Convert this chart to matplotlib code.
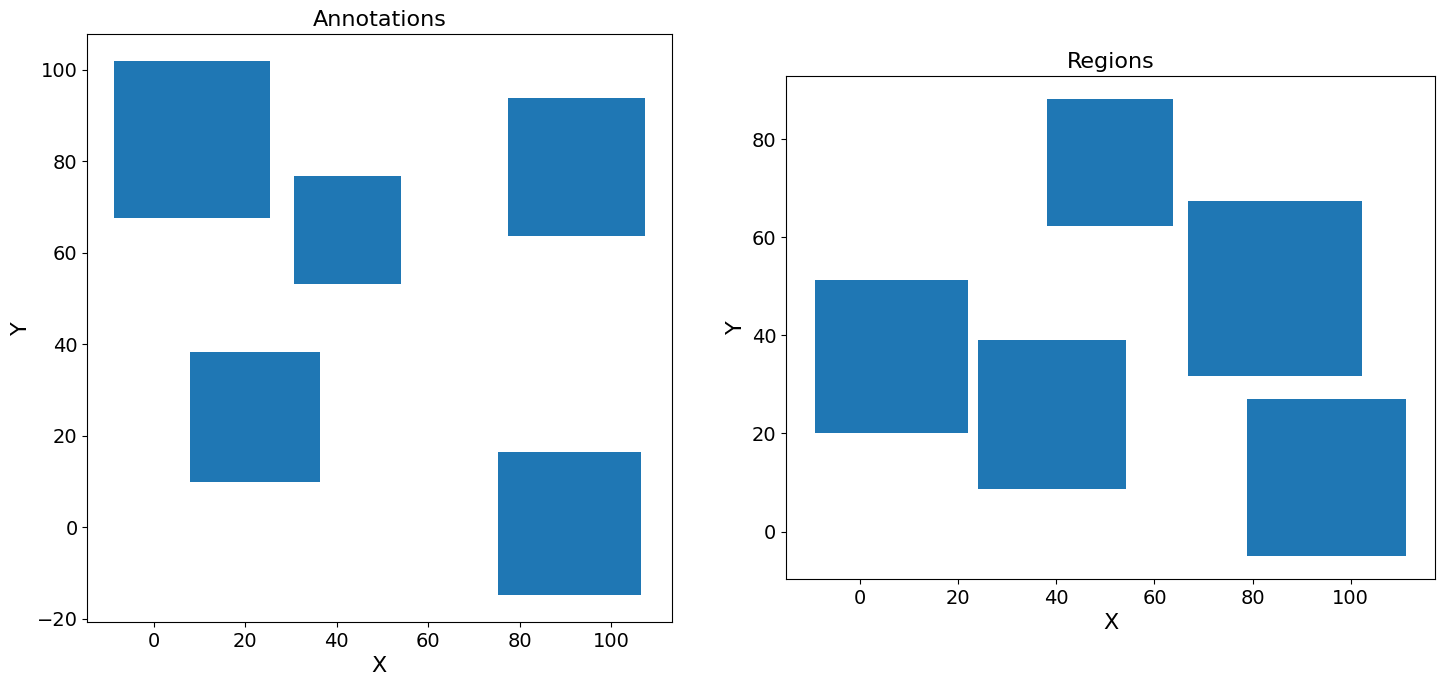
import matplotlib.pyplot as plt
from matplotlib.patches import Rectangle

# Annotations panel: lower-left corner, width, height of each box
ann_x = [-8.7, 30.6, 77.5, 7.9, 75.3]
ann_y = [67.5, 53.1, 63.6, 9.8, -14.9]
ann_w = [34.2, 23.5, 29.9, 28.4, 31.3]
ann_h = [34.4, 23.6, 30.2, 28.5, 31.3]

# Regions panel
reg_x = [-9.1, 24.1, 38.1, 66.8, 78.8]
reg_y = [20.0, 8.6, 62.2, 31.8, -5.0]
reg_w = [31.1, 30.1, 25.7, 35.4, 32.4]
reg_h = [31.2, 30.4, 26.0, 35.5, 32.1]


def box_panel(ax, xs, ys, ws, hs, title):
    for x, y, w, h in zip(xs, ys, ws, hs):
        ax.add_patch(Rectangle((x, y), w, h, facecolor='#1f77b4', edgecolor='none'))
    ax.autoscale_view()
    ax.set_aspect('equal', adjustable='box')
    ax.set_title(title, fontsize=16)
    ax.set_xlabel('X', fontsize=16)
    ax.set_ylabel('Y', fontsize=16)
    ax.tick_params(labelsize=14)


fig = plt.figure(figsize=(14.45, 6.86), dpi=100)
ax1 = fig.add_axes([0.0595, 0.0933, 0.4062, 0.857])
ax2 = fig.add_axes([0.5433, 0.156, 0.4505, 0.7332])

box_panel(ax1, ann_x, ann_y, ann_w, ann_h, 'Annotations')
box_panel(ax2, reg_x, reg_y, reg_w, reg_h, 'Regions')

fig.savefig('out.png', dpi=100)
